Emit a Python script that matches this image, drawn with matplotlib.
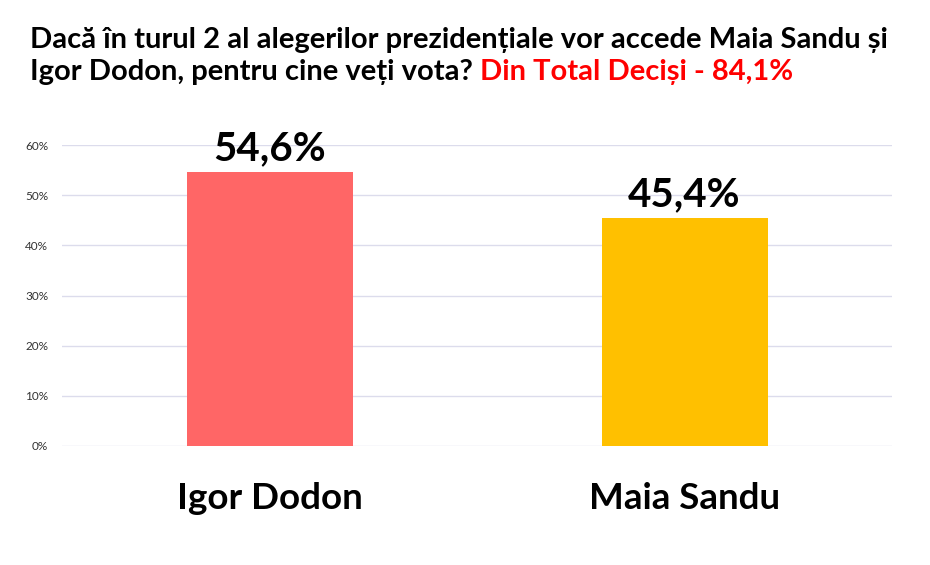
import matplotlib.pyplot as plt
import numpy as np

candidati = ['Igor Dodon', 'Maia Sandu']
procente = [54.6, 45.4]
culori = ['#ff6666', '#ffc000']
etichete = ['54,6%', '45,4%']
y_ticks = [0, 10, 20, 30, 40, 50, 60]

plt.rcParams['font.family'] = ['Lato', 'DejaVu Sans']

fig = plt.figure(figsize=(9.3, 5.65), dpi=100)
ax = fig.add_axes([62/930, 1 - 446/565, 830/930, 301/565])

x = np.arange(len(candidati))
bars = ax.bar(x, procente, width=0.4, color=culori, zorder=3)

for b, t in zip(bars, etichete):
    ax.text(b.get_x() + b.get_width()/2, b.get_height() + 1.0, t,
            ha='center', va='bottom', fontsize=29, fontweight='bold')

ax.set_xlim(-0.5, 1.5)
ax.set_ylim(0, 60)
ax.set_yticks(y_ticks)
ax.set_yticklabels([f'{v}%' for v in y_ticks], fontsize=8.5, color='#333333')
ax.set_xticks(x)
ax.set_xticklabels(candidati, fontsize=26.5, fontweight='bold')
ax.tick_params(axis='both', length=0)
ax.tick_params(axis='x', pad=26)
ax.tick_params(axis='y', pad=10)
ax.yaxis.grid(True, color='#dcdcec', linewidth=1, zorder=0)
ax.set_axisbelow(True)
for s in ax.spines.values():
    s.set_visible(False)

fs = 21
fig.text(30/930, 1 - 40/565, 'Dacă în turul 2 al alegerilor prezidențiale vor accede Maia Sandu și',
         fontsize=fs, fontweight='bold', va='center')
t2 = fig.text(30/930, 1 - 72/565, 'Igor Dodon, pentru cine veți vota? ',
              fontsize=fs, fontweight='bold', va='center')
fig.canvas.draw()
bb = t2.get_window_extent()
fig.text(bb.x1 / 930, 1 - 72/565, 'Din Total Deciși - 84,1%',
         fontsize=fs, fontweight='bold', va='center', color='#ff0000')

fig.savefig('out.png', dpi=100)
